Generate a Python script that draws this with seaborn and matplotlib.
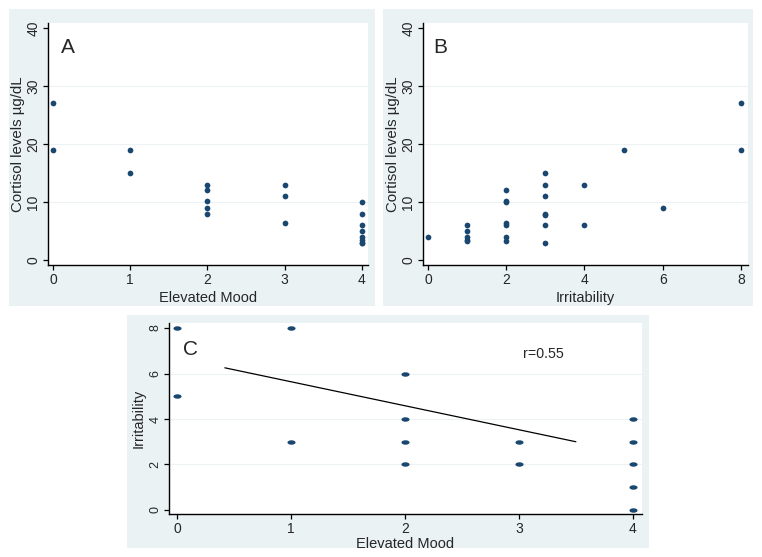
import numpy as np
import pandas as pd
import matplotlib
matplotlib.use("Agg")
import matplotlib.pyplot as plt
from matplotlib.patches import Rectangle
from matplotlib.path import Path
import seaborn as sns

# ---------------- data ----------------
# Panel A: Elevated Mood vs Cortisol
a_mood = [0, 0, 1, 1, 2, 2, 2, 2, 2, 3, 3, 3, 4, 4, 4, 4, 4, 4, 4, 4]
a_cort = [27, 19, 19, 15, 13, 12, 10.2, 9, 8, 13, 11, 6.3, 10, 8, 6, 5, 4, 3.5, 3, 3]

# Panel B: Irritability vs Cortisol
b_irr = [0, 1, 1, 1, 1, 1, 2, 2, 2, 2, 2, 2, 2, 3, 3, 3, 3, 3, 3, 3, 4, 4, 5, 6, 8, 8]
b_cort = [4, 6, 5, 4, 3.5, 3.2, 12, 10.2, 10, 6.3, 6, 4, 3.2,
          15, 13, 11, 8, 7.8, 6, 3, 13, 6, 19, 9, 27, 19]

# Panel C: Elevated Mood vs Irritability
c_mood = [0, 0, 1, 1, 2, 2, 2, 2, 3, 3, 4, 4, 4, 4, 4]
c_irr = [8, 5, 8, 3, 6, 4, 3, 2, 3, 2, 4, 3, 2, 1, 0]
fit_x = [0.42, 3.5]
fit_y = [6.25, 3.0]
r_label = "r=0.55"

a_xticks = [0, 1, 2, 3, 4]
b_xticks = [0, 2, 4, 6, 8]
cort_yticks = [0, 10, 20, 30, 40]
c_yticks = [0, 2, 4, 6, 8]

# ---------------- style ----------------
sns.set_theme(style="white")
plt.rcParams["font.family"] = ["Liberation Sans", "DejaVu Sans"]

W, H = 762, 557
fig = plt.figure(figsize=(W / 100, H / 100), dpi=100)
fig.patch.set_facecolor("white")

PANEL = "#eaf2f4"
DOT = "#1a476f"


def fig_rect(x0, y0, x1, y1):
    return (x0 / W, 1 - y1 / H, (x1 - x0) / W, (y1 - y0) / H)


# background boxes
for (x0, y0, x1, y1) in [(9, 9, 375, 306), (383, 9, 753, 306), (127, 315, 649, 548)]:
    l, b, w, h = fig_rect(x0, y0, x1, y1)
    fig.patches.append(Rectangle((l, b), w, h, transform=fig.transFigure,
                                 facecolor=PANEL, edgecolor="none", zorder=-10))


def style_axes(ax, grid_vals):
    ax.set_facecolor("white")
    for s in ["top", "right"]:
        ax.spines[s].set_visible(False)
    for s in ["left", "bottom"]:
        ax.spines[s].set_visible(True)
        ax.spines[s].set_color("black")
        ax.spines[s].set_linewidth(1.0)
    for g in grid_vals:
        ax.axhline(g, color="#edf2f4", lw=0.8, zorder=0)
    ax.tick_params(axis="both", direction="out", length=3.5, width=0.9,
                   color="black", labelsize=10, pad=2, bottom=True, left=True)
    for lab in ax.get_yticklabels():
        lab.set_rotation(90)
        lab.set_va("center")


# ---------------- Panel A ----------------
axA = fig.add_axes(fig_rect(48, 23, 368, 265))
sns.scatterplot(x=a_mood, y=a_cort, ax=axA, color=DOT, s=17, linewidth=0, zorder=3)
axA.set_xlim(-0.065, 4.078)
axA.set_ylim(-0.86, 40.86)
axA.set_xticks(a_xticks)
axA.set_yticks(cort_yticks)
style_axes(axA, [10, 20, 30])
axA.set_xlabel("Elevated Mood", fontsize=10.5, labelpad=3)
axA.set_ylabel("Cortisol levels µg/dL", fontsize=10.8, labelpad=1)
axA.text(0.1, 35.7, "A", fontsize=15, ha="left", va="baseline")

# ---------------- Panel B ----------------
axB = fig.add_axes(fig_rect(423, 23, 748, 265))
sns.scatterplot(x=b_irr, y=b_cort, ax=axB, color=DOT, s=17, linewidth=0, zorder=3)
axB.set_xlim(-0.128, 8.18)
axB.set_ylim(-0.86, 40.86)
axB.set_xticks(b_xticks)
axB.set_yticks(cort_yticks)
style_axes(axB, [10, 20, 30])
axB.set_xlabel("Irritability", fontsize=10.5, labelpad=3)
axB.set_ylabel("Cortisol levels µg/dL", fontsize=10.8, labelpad=1)
axB.text(0.13, 35.7, "B", fontsize=15, ha="left", va="baseline")

# ---------------- Panel C ----------------
t = np.linspace(0, 2 * np.pi, 40)
ellipse = Path(np.column_stack([np.cos(t), 0.55 * np.sin(t)]), closed=True)

axC = fig.add_axes(fig_rect(169, 323, 642, 514))
sns.scatterplot(x=c_mood, y=c_irr, ax=axC, color=DOT, s=34, marker=ellipse,
                linewidth=0, zorder=3, clip_on=False)
sns.lineplot(x=fit_x, y=fit_y, ax=axC, color="black", lw=0.9, zorder=2)
axC.set_xlim(-0.07, 4.08)
axC.set_ylim(-0.176, 8.22)
axC.set_xticks(a_xticks)
axC.set_yticks(c_yticks)
style_axes(axC, [2, 4, 6])
axC.tick_params(axis="y", labelsize=9)
axC.set_xlabel("Elevated Mood", fontsize=10.5, labelpad=1)
axC.set_ylabel("Irritability", fontsize=10.5, labelpad=3)
axC.text(0.05, 6.81, "C", fontsize=15, ha="left", va="baseline")
axC.text(3.04, 6.68, r_label, fontsize=10.3, ha="left", va="baseline")

fig.savefig("out.png", dpi=100, facecolor="white")
